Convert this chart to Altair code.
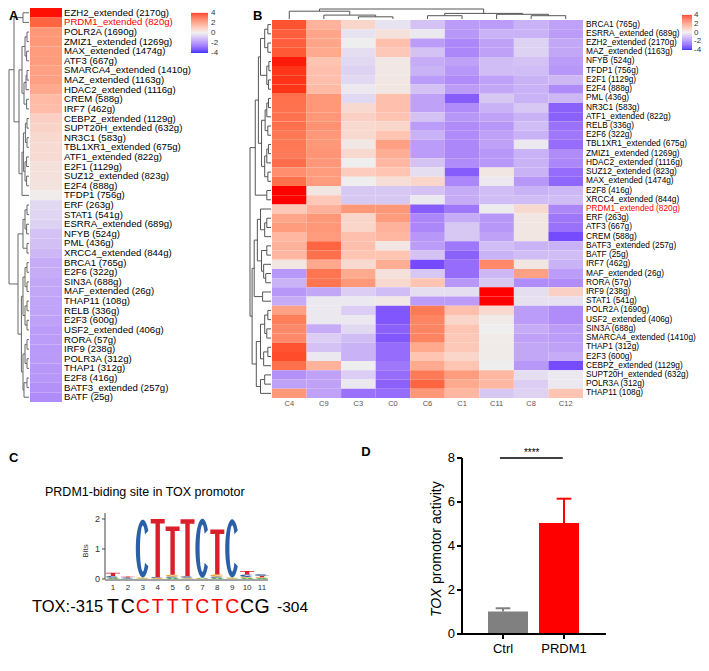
import altair as alt
import numpy as np
import pandas as pd

FONT = "Liberation Sans"
W, H = 693, 655


def px(v):
    return v - 8


def lin(domain, rng):
    return alt.Scale(domain=domain, range=[px(r) for r in rng], nice=False, zero=False)


heat = alt.Scale(domain=[-4, 0, 4], range=["#0000FF", "#EEEEEE", "#FF0000"], interpolate="lab", clamp=True)

# ---------------- Panel A data ----------------
a_labels = ["EZH2_extended (2170g)", "PRDM1_extended (820g)", "POLR2A (1690g)", "ZMIZ1_extended (1269g)",
            "MAX_extended (1474g)", "ATF3 (667g)", "SMARCA4_extended (1410g)", "MAZ_extended (1163g)",
            "HDAC2_extended (1116g)", "CREM (588g)", "IRF7 (462g)", "CEBPZ_extended (1129g)",
            "SUPT20H_extended (632g)", "NR3C1 (583g)", "TBL1XR1_extended (675g)", "ATF1_extended (822g)",
            "E2F1 (1129g)", "SUZ12_extended (823g)", "E2F4 (888g)", "TFDP1 (756g)", "ERF (263g)",
            "STAT1 (541g)", "ESRRA_extended (689g)", "NFYB (524g)", "PML (436g)", "XRCC4_extended (844g)",
            "BRCA1 (765g)", "E2F6 (322g)", "SIN3A (688g)", "MAF_extended (26g)", "THAP11 (108g)",
            "RELB (336g)", "E2F3 (600g)", "USF2_extended (406g)", "RORA (57g)", "IRF9 (238g)",
            "POLR3A (312g)", "THAP1 (312g)", "E2F8 (416g)", "BATF3_extended (257g)", "BATF (25g)"]
a_values = [3.95, 3.0, 2.0, 2.0, 1.9, 1.9, 1.8, 1.8, 1.6, 1.2, 1.15, 0.7, 0.65, 0.5, 0.45, 0.45, 0.3,
            0.3, 0.25, 0.05, -0.4, -0.45, -0.5, -0.8, -0.85, -1.0, -1.2, -1.2, -1.3, -1.3, -1.35, -1.35,
            -1.4, -1.5, -1.5, -1.55, -1.55, -1.6, -1.6, -1.7, -1.8]
a_tree = (1.0,
          (0.75, (0.3, 0, 1),
           (0.5, (0.35, (0.2, (0.1, 2, 3), (0.12, 4, 5)),
                  (0.25, (0.15, (0.1, 6, 7), 8), (0.12, 9, 10))),
            (0.35, (0.28, (0.18, (0.1, 11, 12), (0.1, 13, 14)),
                    (0.2, (0.12, 15, 16), (0.12, 17, 18))), 19))),
          (0.55, (0.3, (0.2, (0.1, 20, 21), (0.12, 22, 23)), (0.1, 24, 25)),
           (0.38, (0.3, (0.2, (0.1, 26, 27), (0.1, 28, 29)), (0.2, (0.1, 30, 31), (0.1, 32, 33))),
            (0.3, (0.2, (0.1, 34, 35), (0.1, 36, 37)), (0.25, (0.1, 38, 39), 40)))))

# ---------------- Panel B data ----------------
b_rows = ["BRCA1 (765g)", "ESRRA_extended (689g)", "EZH2_extended (2170g)", "MAZ_extended (1163g)",
          "NFYB (524g)", "TFDP1 (756g)", "E2F1 (1129g)", "E2F4 (888g)", "PML (436g)", "NR3C1 (583g)",
          "ATF1_extended (822g)", "RELB (336g)", "E2F6 (322g)", "TBL1XR1_extended (675g)",
          "ZMIZ1_extended (1269g)", "HDAC2_extended (1116g)", "SUZ12_extended (823g)",
          "MAX_extended (1474g)", "E2F8 (416g)", "XRCC4_extended (844g)", "PRDM1_extended (820g)",
          "ERF (263g)", "ATF3 (667g)", "CREM (588g)", "BATF3_extended (257g)", "BATF (25g)",
          "IRF7 (462g)", "MAF_extended (26g)", "RORA (57g)", "IRF9 (238g)", "STAT1 (541g)",
          "POLR2A (1690g)", "USF2_extended (406g)", "SIN3A (688g)", "SMARCA4_extended (1410g)",
          "THAP1 (312g)", "E2F3 (600g)", "CEBPZ_extended (1129g)", "SUPT20H_extended (632g)",
          "POLR3A (312g)", "THAP11 (108g)"]
b_cols = ["C4", "C9", "C3", "C0", "C6", "C1", "C11", "C8", "C12"]
b_C4 = [3.3, 3.1, 3.1, 3.2, 3.9, 3.7, 3.7, 3.7, 2.8, 2.75, 2.75, 2.8, 2.65, 2.65, 2.6, 2.85, 2.2, 2.8, 4.0,
        4.0, 0.9, 1.7, 1.9, 1.3, 1.4, 1.3, 0.2, -1.6, -1.1, -1.6, -1.2, 1.8, 2.5, 2.3, 2.3, 3.3, 3.4, 2.8,
        -1.7, -1.4, 2.0]
b_C9 = [1.4, 1.7, 1.7, 1.6, 1.0, 1.1, 1.1, 1.2, 2.0, 2.0, 2.0, 2.1, 2.0, 2.0, 2.05, 2.0, 1.9, 1.9, 0.2, 0.9,
        1.4, 2.0, 2.0, 1.9, 3.0, 2.8, 1.6, 2.7, 2.7, -1.3, -0.1, -0.1, -0.1, -1.2, -0.6, -0.8, -0.1, 1.4,
        -1.4, -1.4, -1.4]
b_C3 = [0.6, -0.2, 0.0, -0.3, -0.4, -0.5, -0.4, -0.1, -0.4, 0.5, 0.7, 0.5, 0.5, 0.15, 0.5, 0.0, 0.8, 0.0,
        -0.7, -0.7, 2.0, 0.6, 0.6, 1.1, 1.1, 1.0, 0.5, 1.6, 2.0, -0.6, -0.1, -0.6, -0.1, -0.4, -0.9, -1.1,
        -1.1, 0.0, -0.6, -0.1, -2.3]
b_C0 = [-0.2, 0.3, 1.1, 0.9, 0.15, 0.15, 0.2, 0.2, 1.1, 1.1, 1.0, 0.6, 1.0, 1.8, 1.5, 1.3, 1.0, 0.4, -0.7,
        -0.7, 2.0, 1.9, 1.4, 1.3, 0.2, 1.0, 1.5, 0.3, 0.5, -0.9, 0.15, -2.8, -2.8, -2.6, -2.8, -2.4, -2.4,
        -2.2, -2.4, -2.6, -2.4]
b_C6 = [-0.8, -0.1, -1.5, -0.8, -1.2, -1.1, -1.5, -0.8, -1.4, -1.4, -0.8, -1.5, -1.1, -1.5, -1.5, -0.8, -0.3,
        0.6, -0.8, -0.1, -2.7, -1.9, -1.9, -1.6, -1.5, -0.8, -3.0, -0.7, 1.0, -0.3, -1.5, 2.6, 2.4, 2.4, 2.4,
        1.6, 1.0, 1.6, 2.6, 3.0, 2.0]
b_C1 = [-1.5, -1.6, -1.9, -1.9, -1.4, -1.6, -1.8, -1.5, -2.7, -1.8, -1.6, -1.8, -1.8, -1.9, -1.9, -1.8, -2.7,
        -1.9, -1.2, -1.2, -2.2, -1.2, -0.7, -0.7, -2.2, -2.6, -2.4, -2.4, -1.6, -0.3, -1.5, 1.1, 0.6, 1.0,
        0.9, 0.9, 0.6, 1.0, 1.9, 1.6, 1.3]
b_C11 = [-1.5, -1.1, -1.4, -1.4, -0.9, -0.9, -1.4, -1.3, -0.7, -1.1, -1.4, -1.6, -1.4, -1.4, -1.6, -1.6, 0.2,
         -0.1, -0.9, -0.9, -0.05, -1.6, -1.6, -1.4, -0.9, -1.1, 2.3, -1.0, -0.7, 4.5, 4.5, 0.5, 0.1, 0.0,
         0.1, 0.1, 0.1, 0.0, 1.3, 1.3, -0.7]
b_C8 = [-1.1, -1.1, -0.5, -0.5, -0.8, -0.9, -1.1, -1.1, -1.1, -0.7, -1.1, -0.9, -1.1, -0.1, -1.1, -1.1, -1.1,
        -1.6, -1.1, -0.9, 0.5, 0.2, 0.2, 0.2, -1.1, -0.9, 0.2, 1.8, -1.8, -0.3, -0.25, -1.5, -1.5, -1.2, -1.4,
        -1.3, -1.3, -1.6, -0.3, -0.6, -0.5]
b_C12 = [-1.4, -1.5, -1.3, -1.3, -1.5, -1.6, -1.0, -1.8, -1.0, -2.6, -2.6, -2.3, -2.2, -2.4, -1.8, -1.9, -2.4,
         -2.5, -1.0, -0.9, -1.9, -2.2, -2.3, -3.0, -1.1, -0.9, -1.1, -1.5, -1.8, 0.7, -0.25, -1.8, -1.8, -1.5,
         -1.5, -1.4, -1.2, -3.0, -0.1, -0.1, 1.0]
b_values = [b_C4, b_C9, b_C3, b_C0, b_C6, b_C1, b_C11, b_C8, b_C12]
b_row_tree = (1.0,
              (0.75,
               (0.6,
                (0.5, (0.3, (0.15, 0, 1), (0.15, 2, 3)), (0.2, (0.1, 4, 5), (0.12, 6, 7))),
                (0.45, (0.28, (0.2, (0.12, 8, 9), 10), (0.15, 11, 12)),
                 (0.3, (0.2, (0.12, 13, 14), 15), (0.15, 16, 17)))),
               (0.2, 18, 19)),
              (0.9,
               (0.8,
                (0.65, (0.5, 20, (0.3, (0.2, 21, 22), 23)),
                 (0.45, (0.2, 24, 25), (0.35, 26, (0.25, 27, 28)))),
                (0.4, 29, 30)),
               (0.7,
                (0.5, (0.3, (0.15, 31, 32), (0.2, 33, 34)), (0.35, (0.15, 35, 36), 37)),
                (0.5, (0.3, 38, 39), 40))))
b_col_tree = (1.0, (0.78, 0, (0.39, 1, (0.22, 2, 3))), (0.56, (0.33, 4, 5), (0.47, 6, (0.33, 7, 8))))

# ---------------- Panel C data ----------------
logo_stacks = [
    [("A", 0.03), ("G", 0.02), ("C", 0.05), ("T", 0.11)],
    [("A", 0.02), ("C", 0.03), ("T", 0.03)],
    [("A", 0.02), ("G", 0.03), ("C", 1.93)],
    [("G", 0.03), ("C", 0.03), ("T", 1.94)],
    [("A", 0.04), ("C", 0.04), ("G", 0.06), ("T", 1.61)],
    [("A", 0.02), ("G", 0.03), ("C", 0.04), ("T", 1.9)],
    [("G", 0.02), ("A", 0.02), ("C", 1.97)],
    [("A", 0.04), ("C", 0.04), ("G", 0.07), ("T", 1.5)],
    [("A", 0.02), ("G", 0.03), ("C", 1.94)],
    [("A", 0.04), ("G", 0.03), ("C", 0.08), ("T", 0.12)],
    [("A", 0.03), ("G", 0.03), ("T", 0.05), ("C", 0.05)],
]
seq_letters = list("TCCTTTCTCCG")
seq_in_motif = [False, False, True, True, True, True, True, True, True, False, False]

# ---------------- Panel D data ----------------
d_groups = ["Ctrl", "PRDM1"]
d_means = [1.02, 5.05]
d_errs = [0.15, 1.1]
d_colors = ["#808080", "#FF0000"]


# ---------------- helpers ----------------
def dendro(tree):
    segs = []

    def walk(n):
        if isinstance(n, int):
            return n + 0.5, 0.0
        h, l, r = n
        cl, hl = walk(l)
        cr, hr = walk(r)
        segs.append((cl, hl, cl, h))
        segs.append((cr, hr, cr, h))
        segs.append((cl, h, cr, h))
        return (cl + cr) / 2, h

    walk(tree)
    return pd.DataFrame(segs, columns=["p1", "h1", "p2", "h2"])


def note(text, x, y, size, weight="normal", color="black", align="left", baseline="middle", angle=0,
         style="normal"):
    return alt.Chart(pd.DataFrame({"t": [text]})).mark_text(
        align=align, baseline=baseline, font=FONT, fontSize=size, fontWeight=weight, color=color,
        angle=angle, fontStyle=style).encode(x=alt.value(px(x)), y=alt.value(px(y)), text="t:N")


def glyph_path(letter, h_px, half_w=7.0):
    h2 = max(h_px, 0.4) / 2.0
    w = half_w / h2
    if letter == "T":
        tb = min(0.5, 4.5 / h2)
        sw = 2.2 / h2
        pts = [(-w, -1), (w, -1), (w, -1 + tb), (sw, -1 + tb), (sw, 1), (-sw, 1), (-sw, -1 + tb),
               (-w, -1 + tb)]
    elif letter in "CG":
        wi = max(w - 4.2 / h2, w * 0.3)
        hi = max(1 - 6.0 / h2, 0.3)
        ang = np.radians(np.linspace(38, 322, 48))
        outer = [(w * np.cos(a), -np.sin(a)) for a in ang]
        inner = [(wi * np.cos(a), -hi * np.sin(a)) for a in ang[::-1]]
        pts = outer + inner
        if letter == "G":
            pts = outer + [(w * 0.8, 0.1), (w * 0.2, 0.1)] + inner
    else:
        pts = [(-w, 1), (-w * 0.25, -1), (w * 0.25, -1), (w, 1), (w * 0.45, 1), (0, -0.2), (-w * 0.45, 1)]
    return "M" + " L".join(f"{x:.4f} {y:.4f}" for x, y in pts) + " Z"


layers = []
red_cond = lambda nm: alt.condition(alt.datum.name == nm, alt.value("#FF0000"), alt.value("black"))

# ================= Panel A =================
ya = lin([0, 41], [8, 402])
xa_cell = lin([0, 1], [30, 62])
xa_d = lin([0, 1], [29, 9])
df_a = pd.DataFrame({"name": a_labels, "v": a_values})
df_a["r0"] = np.arange(len(df_a))
df_a["r1"] = df_a["r0"] + 1
df_a["rm"] = df_a["r0"] + 0.5
df_a["c0"] = 0
df_a["c1"] = 1
layers.append(alt.Chart(df_a).mark_rect().encode(
    x=alt.X("c0:Q", scale=xa_cell, axis=None), x2="c1:Q",
    y=alt.Y("r0:Q", scale=ya, axis=None), y2="r1:Q",
    color=alt.Color("v:Q", scale=heat, legend=None)))
layers.append(alt.Chart(df_a).mark_text(align="left", baseline="middle", font=FONT, fontSize=9.6).encode(
    x=alt.value(px(64)), y=alt.Y("rm:Q", scale=ya, axis=None), text="name:N",
    color=red_cond("PRDM1_extended (820g)")))
layers.append(alt.Chart(dendro(a_tree)).mark_rule(color="#666666", strokeWidth=1).encode(
    x=alt.X("h1:Q", scale=xa_d, axis=None), x2="h2:Q",
    y=alt.Y("p1:Q", scale=ya, axis=None), y2="p2:Q"))

grad = pd.DataFrame({"v": np.round(np.arange(-4.0, 4.0, 0.1), 2)})
grad["v2"] = grad["v"] + 0.12
leg_vals = pd.DataFrame({"v": [4, 2, 0, -2, -4], "t": ["4", "2", "0", "-2", "-4"]})

leg_a = lin([-4, 4], [53, 13])
layers.append(alt.Chart(grad).mark_rect().encode(
    x=alt.value(px(191)), x2=alt.value(px(208)),
    y=alt.Y("v:Q", scale=leg_a, axis=None), y2="v2:Q",
    color=alt.Color("v:Q", scale=heat, legend=None)))
layers.append(alt.Chart(leg_vals).mark_text(align="left", baseline="middle", font=FONT, fontSize=8,
                                            color="#333333").encode(
    x=alt.value(px(211)), y=alt.Y("v:Q", scale=leg_a, axis=None), text="t:N"))
layers.append(note("A", 9, 16, 13, weight="bold"))

# ================= Panel B =================
xb = lin([0, 9], [272, 583])
yb = lin([0, 41], [20, 398])
xb_d = lin([0, 1], [271, 250])
yb_d = lin([0, 1], [19, 9])
recs = []
for ci, col in enumerate(b_cols):
    for ri, row in enumerate(b_rows):
        recs.append({"col": col, "name": row, "v": b_values[ci][ri], "c0": ci, "c1": ci + 1, "r0": ri,
                     "r1": ri + 1})
df_b = pd.DataFrame(recs)
layers.append(alt.Chart(df_b).mark_rect().encode(
    x=alt.X("c0:Q", scale=xb, axis=None), x2="c1:Q",
    y=alt.Y("r0:Q", scale=yb, axis=None), y2="r1:Q",
    color=alt.Color("v:Q", scale=heat, legend=None)))
df_bl = pd.DataFrame({"name": b_rows})
df_bl["rm"] = np.arange(len(b_rows)) + 0.5
layers.append(alt.Chart(df_bl).mark_text(align="left", baseline="middle", font=FONT, fontSize=8.3).encode(
    x=alt.value(px(586)), y=alt.Y("rm:Q", scale=yb, axis=None), text="name:N",
    color=red_cond("PRDM1_extended (820g)")))
df_bc = pd.DataFrame({"col": b_cols})
df_bc["cm"] = np.arange(len(b_cols)) + 0.5
layers.append(alt.Chart(df_bc).mark_text(align="center", baseline="middle", font=FONT, fontSize=7.5,
                                         color="#555555").encode(
    x=alt.X("cm:Q", scale=xb, axis=None), y=alt.value(px(404)), text="col:N"))
layers.append(alt.Chart(dendro(b_row_tree)).mark_rule(color="#555555", strokeWidth=1).encode(
    x=alt.X("h1:Q", scale=xb_d, axis=None), x2="h2:Q",
    y=alt.Y("p1:Q", scale=yb, axis=None), y2="p2:Q"))
layers.append(alt.Chart(dendro(b_col_tree)).mark_rule(color="#555555", strokeWidth=1).encode(
    x=alt.X("p1:Q", scale=xb, axis=None), x2="p2:Q",
    y=alt.Y("h1:Q", scale=yb_d, axis=None), y2="h2:Q"))
leg_b = lin([-4, 4], [50, 15])
layers.append(alt.Chart(grad).mark_rect().encode(
    x=alt.value(px(682)), x2=alt.value(px(692)),
    y=alt.Y("v:Q", scale=leg_b, axis=None), y2="v2:Q",
    color=alt.Color("v:Q", scale=heat, legend=None)))
layers.append(alt.Chart(leg_vals).mark_text(align="left", baseline="middle", font=FONT, fontSize=8,
                                            color="#333333").encode(
    x=alt.value(px(694)), y=alt.Y("v:Q", scale=leg_b, axis=None), text="t:N"))
layers.append(note("B", 253, 16, 13, weight="bold"))

# ================= Panel C =================
xl = lin([1, 11], [113, 262])
yl = lin([0, 2], [579, 519])
rows = []
for pi, stack in enumerate(logo_stacks):
    base = 0.0
    for letter, bits in stack:
        rows.append({"pos": pi + 1, "letter": letter, "bits": bits, "yc": base + bits / 2,
                     "path": glyph_path(letter, 30.0 * bits)})
        base += bits
df_logo = pd.DataFrame(rows)
layers.append(alt.Chart(df_logo).mark_point(filled=True, opacity=1, strokeWidth=0).encode(
    x=alt.X("pos:Q", scale=xl, axis=None),
    y=alt.Y("yc:Q", scale=yl, axis=None),
    shape=alt.Shape("path:N", scale=None, legend=None),
    size=alt.Size("bits:Q", scale=alt.Scale(type="pow", exponent=2, domain=[0, 2], range=[0, 3600]),
                  legend=None),
    color=alt.Color("letter:N", scale=alt.Scale(domain=["A", "C", "G", "T"],
                                                range=["#2CA02C", "#2B5FA8", "#F2A11F", "#DA1F2B"]),
                    legend=None)))
layers.append(alt.Chart(pd.DataFrame({"y0": [0], "y1": [2.2]})).mark_rule(color="#444444", strokeWidth=1).encode(
    x=alt.value(px(105)), y=alt.Y("y0:Q", scale=yl, axis=None), y2="y1:Q"))
layers.append(alt.Chart(pd.DataFrame({"x0": [0.46], "x1": [11.4]})).mark_rule(color="#444444", strokeWidth=1).encode(
    x=alt.X("x0:Q", scale=xl, axis=None), x2="x1:Q", y=alt.value(px(580))))
ytk = pd.DataFrame({"v": [0, 1, 2], "t": ["0", "1", "2"]})
layers.append(alt.Chart(ytk).mark_rule(color="#444444", strokeWidth=1).encode(
    x=alt.value(px(102)), x2=alt.value(px(105)), y=alt.Y("v:Q", scale=yl, axis=None)))
layers.append(alt.Chart(ytk).mark_text(align="right", baseline="middle", font=FONT, fontSize=9,
                                       color="#333333").encode(
    x=alt.value(px(100)), y=alt.Y("v:Q", scale=yl, axis=None), text="t:N"))
xtk = pd.DataFrame({"p": list(range(1, 12))})
xtk["t"] = xtk["p"].astype(str)
layers.append(alt.Chart(xtk).mark_text(align="center", baseline="middle", font=FONT, fontSize=8,
                                       color="#333333").encode(
    x=alt.X("p:Q", scale=xl, axis=None), y=alt.value(px(588)), text="t:N"))
layers.append(note("Bits", 86, 551, 8, align="center", angle=270, color="#333333"))
df_seq = pd.DataFrame({"p": list(range(1, 12)), "s": seq_letters, "m": seq_in_motif})
layers.append(alt.Chart(df_seq).mark_text(align="center", baseline="alphabetic", font=FONT,
                                          fontSize=19.5).encode(
    x=alt.X("p:Q", scale=xl, axis=None), y=alt.value(px(613)), text="s:N",
    color=alt.condition(alt.datum.m, alt.value("#FF0000"), alt.value("black"))))
layers.append(note("TOX:-315", 32, 612, 16.5, baseline="alphabetic"))
layers.append(note("-304", 277, 612, 15.5, baseline="alphabetic"))
layers.append(note("PRDM1-biding site in TOX promotor", 45, 492, 12.5))
layers.append(note("C", 9, 458, 13, weight="bold"))

# ================= Panel D =================
xd = lin([0, 1], [503, 564])
yd = lin([0, 8], [634, 458])
df_d = pd.DataFrame({"g": d_groups, "m": d_means, "e": d_errs})
df_d["i"] = np.arange(len(df_d))
df_d["z"] = 0.0
df_d["top"] = df_d["m"] + df_d["e"]
df_d["cl"] = df_d["i"] - 0.12
df_d["cr"] = df_d["i"] + 0.12
gcol = alt.Color("g:N", scale=alt.Scale(domain=d_groups, range=d_colors), legend=None)
layers.append(alt.Chart(df_d).mark_rule(strokeWidth=2).encode(
    x=alt.X("i:Q", scale=xd, axis=None), y=alt.Y("m:Q", scale=yd, axis=None), y2="top:Q", color=gcol))
layers.append(alt.Chart(df_d).mark_rule(strokeWidth=2).encode(
    x=alt.X("cl:Q", scale=xd, axis=None), x2="cr:Q", y=alt.Y("top:Q", scale=yd, axis=None), color=gcol))
layers.append(alt.Chart(df_d).mark_bar(size=40, orient="vertical").encode(
    x=alt.X("i:Q", scale=xd, axis=None), y=alt.Y("m:Q", scale=yd, axis=None), y2="z:Q", color=gcol))
layers.append(alt.Chart(pd.DataFrame({"y0": [0], "y1": [8]})).mark_rule(color="black", strokeWidth=2).encode(
    x=alt.value(px(462)), y=alt.Y("y0:Q", scale=yd, axis=None), y2="y1:Q"))
layers.append(alt.Chart(pd.DataFrame({"y0": [0]})).mark_rule(color="black", strokeWidth=2).encode(
    x=alt.value(px(461)), x2=alt.value(px(606)), y=alt.Y("y0:Q", scale=yd, axis=None)))
dtk = pd.DataFrame({"v": [0, 2, 4, 6, 8], "t": ["0", "2", "4", "6", "8"]})
layers.append(alt.Chart(dtk).mark_rule(color="black", strokeWidth=2).encode(
    x=alt.value(px(457)), x2=alt.value(px(462)), y=alt.Y("v:Q", scale=yd, axis=None)))
layers.append(alt.Chart(dtk).mark_text(align="right", baseline="middle", font=FONT, fontSize=13).encode(
    x=alt.value(px(455)), y=alt.Y("v:Q", scale=yd, axis=None), text="t:N"))
layers.append(alt.Chart(df_d).mark_rule(color="black", strokeWidth=2).encode(
    x=alt.X("i:Q", scale=xd, axis=None), y=alt.value(px(634)), y2=alt.value(px(639))))
layers.append(alt.Chart(df_d).mark_text(align="center", baseline="middle", font=FONT, fontSize=13).encode(
    x=alt.X("i:Q", scale=xd, axis=None), y=alt.value(px(649)), text="g:N"))
sig = pd.DataFrame({"x0": [-0.05], "x1": [0.98], "y": [8.0], "xm": [0.47], "t": ["****"]})
layers.append(alt.Chart(sig).mark_rule(color="black", strokeWidth=1.5).encode(
    x=alt.X("x0:Q", scale=xd, axis=None), x2="x1:Q", y=alt.Y("y:Q", scale=yd, axis=None)))
layers.append(alt.Chart(sig).mark_text(align="center", baseline="alphabetic", font=FONT, fontSize=10,
                                       dy=-2).encode(
    x=alt.X("xm:Q", scale=xd, axis=None), y=alt.Y("y:Q", scale=yd, axis=None), text="t:N"))
layers.append(note("TOX", 437, 617, 14, angle=270, style="italic"))
layers.append(note("promotor activity", 437, 584, 14, angle=270))
layers.append(note("D", 366, 452, 13, weight="bold", align="center"))

chart = alt.layer(*layers).resolve_scale(
    x="independent", y="independent", color="independent", size="independent", shape="independent"
).properties(width=W, height=H, padding=0, autosize=alt.AutoSizeParams(type="none")).configure_view(stroke=None)

chart.save("out.html", embed_options={"renderer": "svg", "actions": False})
